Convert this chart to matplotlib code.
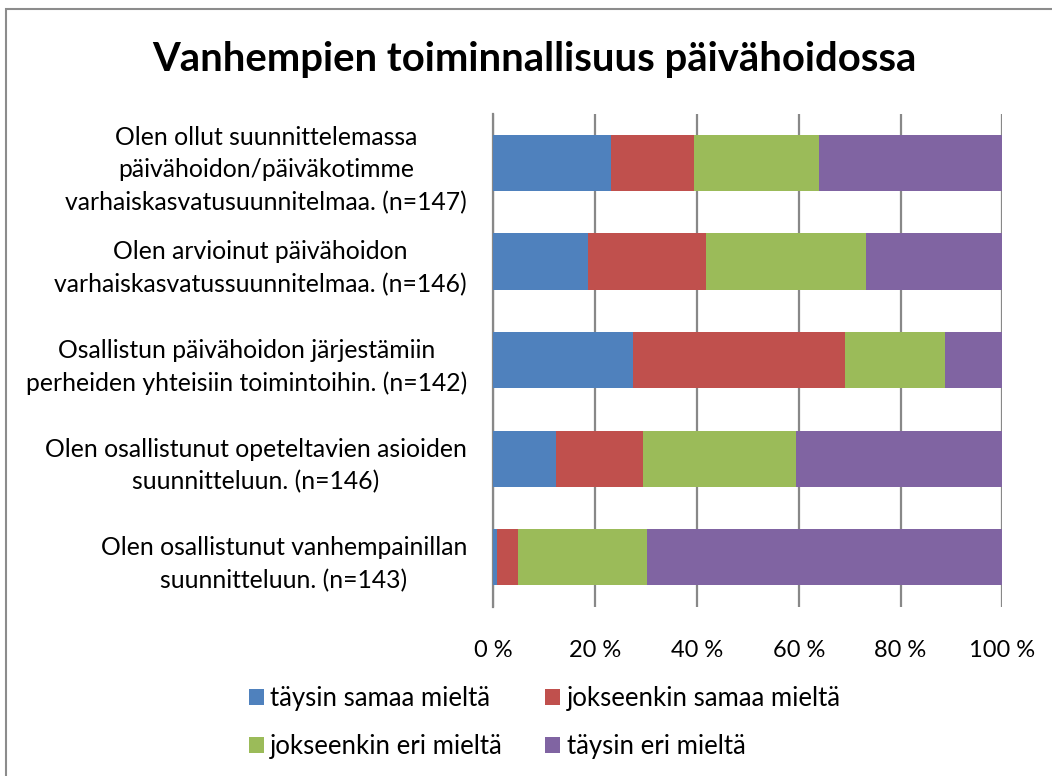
import matplotlib.pyplot as plt
import numpy as np
from matplotlib.patches import Rectangle

plt.rcParams['font.family'] = ['Lato', 'DejaVu Sans']

# kysymykset ylhäältä alas
kysymykset = [
    'Olen ollut suunnittelemassa\npäivähoidon/päiväkotimme\nvarhaiskasvatusuunnitelmaa. (n=147)',
    'Olen arvioinut päivähoidon\nvarhaiskasvatussuunnitelmaa. (n=146)',
    'Osallistun päivähoidon järjestämiin\nperheiden yhteisiin toimintoihin. (n=142)',
    'Olen osallistunut opeteltavien asioiden\nsuunnitteluun. (n=146)',
    'Olen osallistunut vanhempainillan\nsuunnitteluun. (n=143)',
]
sarjat = ['täysin samaa mieltä', 'jokseenkin samaa mieltä',
          'jokseenkin eri mieltä', 'täysin eri mieltä']
taysin_samaa = [23.1, 18.5, 27.5, 12.3, 0.7]
jokseenkin_samaa = [16.3, 23.3, 41.5, 17.1, 4.2]
jokseenkin_eri = [24.5, 31.5, 19.7, 30.1, 25.2]
taysin_eri = [36.1, 26.7, 11.3, 40.5, 69.9]
varit = ['#4F81BD', '#C0504D', '#9BBB59', '#8064A2']
x_ticks = [0, 20, 40, 60, 80, 100]

fig = plt.figure(figsize=(10.52, 7.76), dpi=100)
ax = fig.add_axes([0.469, 0.2182, 0.4838, 0.6353])

# kehys
fig.patches.append(Rectangle((6 / 1052, -0.1), 1.2, 1 - 9 / 776 + 0.1,
                             transform=fig.transFigure, fill=False,
                             edgecolor='#8c8c8c', linewidth=1.5, zorder=0))

y = np.arange(len(kysymykset))
vasen = np.zeros(len(kysymykset))
kaikki = [taysin_samaa, jokseenkin_samaa, jokseenkin_eri, taysin_eri]
palkit = []
for arvot, vari, nimi in zip(kaikki, varit, sarjat):
    b = ax.barh(y, arvot, left=vasen, height=0.57, color=vari, label=nimi, zorder=3)
    palkit.append(b)
    vasen += np.array(arvot)

ax.set_xlim(0, 100)
ax.set_ylim(len(kysymykset) - 0.5, -0.5)
ax.set_xticks(x_ticks)
ax.set_xticklabels([f'{v} %' for v in x_ticks])
ax.set_yticks(y)
ax.set_yticklabels(kysymykset)
for t in ax.get_yticklabels():
    t.set_multialignment('center')
    t.set_linespacing(1.5)
ax.tick_params(axis='both', length=0, colors='black')
ax.tick_params(axis='y', labelsize=17.8, pad=19)
ax.tick_params(axis='x', labelsize=17, pad=24)
ax.grid(axis='x', color='#888888', linewidth=1.6, zorder=0)
for s in ['top', 'right', 'bottom']:
    ax.spines[s].set_visible(False)
ax.spines['left'].set_color('#888888')
ax.spines['left'].set_linewidth(1.6)

fig.text(0.508, 1 - 59 / 776, 'Vanhempien toiminnallisuus päivähoidossa',
         ha='center', va='center', fontsize=28.8, fontweight='bold')

jarjestys = [palkit[0], palkit[2], palkit[1], palkit[3]]
fig.legend(jarjestys, [sarjat[0], sarjat[2], sarjat[1], sarjat[3]],
           ncol=2, loc='center left', bbox_to_anchor=(249 / 1052, 1 - 722.5 / 776),
           frameon=False, fontsize=18.5, handlelength=0.58, handleheight=0.58,
           handletextpad=0.25, columnspacing=1.65, labelspacing=0.9,
           borderpad=0, borderaxespad=0)

plt.savefig('out.png', dpi=100)
